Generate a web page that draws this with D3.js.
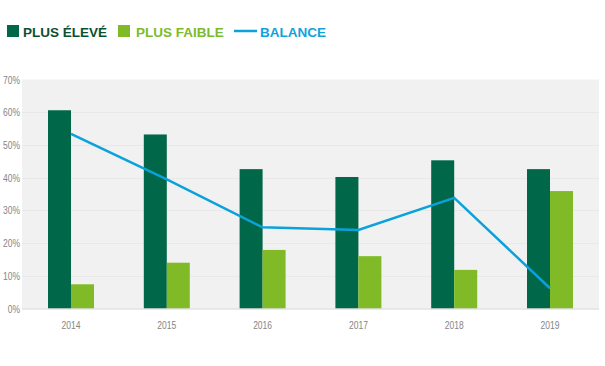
<!DOCTYPE html>
<html>
<head>
<meta charset="utf-8">
<script src="https://cdn.jsdelivr.net/npm/d3@7"></script>
<style>
  body { margin: 0; background: #fff; }
  .tick-label { font-family: "Liberation Sans", Arial, sans-serif; font-size: 10px; fill: #858585; }
  .legend-text { font-family: "Liberation Sans", Arial, sans-serif; font-weight: bold; font-size: 13.5px; }
</style>
</head>
<body>
<div id="chart"></div>
<script>
const years = ['2014', '2015', '2016', '2017', '2018', '2019'];
const higher = [60.6, 53.2, 42.6, 40.2, 45.3, 42.6];   // Plus élevé
const lower = [7.4, 14.0, 17.9, 16.0, 11.8, 35.9];     // Plus faible
const balance = [53.4, 39.5, 24.8, 24.0, 33.8, 6.2];   // Balance
const yTicks = [0, 10, 20, 30, 40, 50, 60, 70];

const width = 605;
const height = 366;
const plot = { left: 22, right: 599, top: 79.5, bottom: 308.5 };

const darkGreen = '#006848';
const lightGreen = '#80bb27';
const blue = '#0ba2dc';

const svg = d3.select('#chart').append('svg')
    .attr('width', width)
    .attr('height', height);

// squeeze tick labels to look like the condensed face in the original
function condense(sel) {
    sel.each(function() {
        const w = this.getComputedTextLength();
        d3.select(this)
            .attr('textLength', w * 0.85)
            .attr('lengthAdjust', 'spacingAndGlyphs');
    });
}

// Scales
const x0 = d3.scaleBand()
    .domain(years)
    .range([plot.left, plot.right])
    .padding(0.023);

const x1 = d3.scaleBand()
    .domain(['higher', 'lower'])
    .range([x0.bandwidth() / 2 - 23, x0.bandwidth() / 2 + 23]);

const y = d3.scaleLinear()
    .domain([0, 70])
    .range([plot.bottom, plot.top]);

// Grey background
svg.append('rect')
    .attr('x', plot.left)
    .attr('y', plot.top)
    .attr('width', plot.right - plot.left)
    .attr('height', plot.bottom - plot.top)
    .attr('fill', '#f1f1f1');

// Gridlines
svg.append('g')
    .selectAll('line')
    .data(yTicks.slice(1, -1))
    .enter()
    .append('line')
    .attr('x1', plot.left)
    .attr('x2', plot.right)
    .attr('y1', d => Math.round(y(d)) + 0.5)
    .attr('y2', d => Math.round(y(d)) + 0.5)
    .attr('stroke', '#e8e8e8')
    .attr('stroke-width', 1);

// Y axis labels
const yAxis = svg.append('g')
    .attr('transform', 'translate(20,0)')
    .call(d3.axisLeft(y).tickValues(yTicks).tickFormat(d => d + '%').tickSize(0).tickPadding(0));
yAxis.select('.domain').remove();
yAxis.selectAll('text').attr('class', 'tick-label').attr('fill', null).attr('dy', '0.36em').call(condense);

// Bars
const groups = svg.append('g')
    .selectAll('g')
    .data(years)
    .enter()
    .append('g')
    .attr('transform', d => 'translate(' + x0(d) + ',0)');

groups.append('rect')
    .attr('x', x1('higher'))
    .attr('width', x1.bandwidth())
    .attr('y', (d, i) => y(higher[i]))
    .attr('height', (d, i) => y(0) - y(higher[i]))
    .attr('fill', darkGreen);

groups.append('rect')
    .attr('x', x1('lower'))
    .attr('width', x1.bandwidth())
    .attr('y', (d, i) => y(lower[i]))
    .attr('height', (d, i) => y(0) - y(lower[i]))
    .attr('fill', lightGreen);

// Baseline
svg.append('line')
    .attr('x1', plot.left)
    .attr('x2', plot.right)
    .attr('y1', plot.bottom + 0.5)
    .attr('y2', plot.bottom + 0.5)
    .attr('stroke', '#d4d4d4');

// X axis labels
const xAxis = svg.append('g')
    .attr('transform', 'translate(0,' + (plot.bottom + 13) + ')')
    .call(d3.axisBottom(x0).tickSize(0).tickPadding(0));
xAxis.select('.domain').remove();
xAxis.selectAll('text').attr('class', 'tick-label').attr('fill', null).call(condense);

// Balance line
const line = d3.line()
    .x((d, i) => x0(years[i]) + x0.bandwidth() / 2)
    .y(d => y(d));

svg.append('path')
    .datum(balance)
    .attr('d', line)
    .attr('fill', 'none')
    .attr('stroke', blue)
    .attr('stroke-width', 2.5);

// Legend
const legend = svg.append('g');

legend.append('rect')
    .attr('x', 7).attr('y', 25).attr('width', 12).attr('height', 12)
    .attr('fill', darkGreen);
legend.append('text')
    .attr('class', 'legend-text')
    .attr('x', 23).attr('y', 36.5)
    .attr('fill', '#0c4f31')
    .text('PLUS ÉLEVÉ');

legend.append('rect')
    .attr('x', 118).attr('y', 25).attr('width', 12).attr('height', 12)
    .attr('fill', lightGreen);
legend.append('text')
    .attr('class', 'legend-text')
    .attr('x', 136).attr('y', 36.5)
    .attr('fill', '#7cbb2a')
    .text('PLUS FAIBLE');

legend.append('line')
    .attr('x1', 234).attr('x2', 257).attr('y1', 31).attr('y2', 31)
    .attr('stroke', blue).attr('stroke-width', 2.5);
legend.append('text')
    .attr('class', 'legend-text')
    .attr('x', 260).attr('y', 36.5)
    .attr('fill', '#10a3dc')
    .text('BALANCE');
</script>
</body>
</html>
